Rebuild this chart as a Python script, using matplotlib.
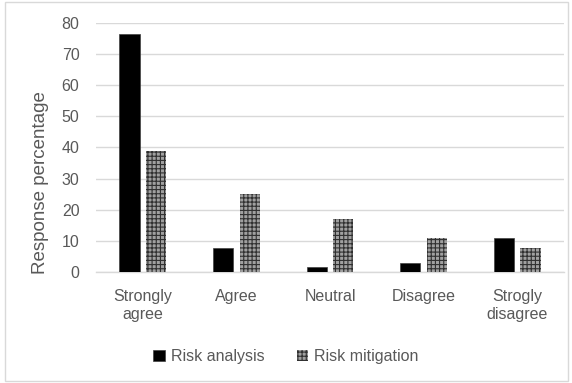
import matplotlib
matplotlib.use("Agg")
import matplotlib.pyplot as plt
import numpy as np
from matplotlib.patches import Rectangle

plt.rcParams['font.family'] = ['Liberation Sans', 'DejaVu Sans']
plt.rcParams['hatch.linewidth'] = 0.8

categories = ["Strongly\nagree", "Agree", "Neutral", "Disagree", "Strogly\ndisagree"]
risk_analysis = [76.5, 7.7, 1.5, 3.0, 10.9]
risk_mitigation = [38.9, 25.0, 17.0, 11.0, 7.7]
yticks = [0, 10, 20, 30, 40, 50, 60, 70, 80]

text_color = "#595959"
grid_color = "#d9d9d9"

fig = plt.figure(figsize=(5.72, 3.83), dpi=100)
ax = fig.add_axes([0.168, 0.29, 0.818, 0.65])

x = np.arange(len(categories))
w = 0.215
gap = 0.07
ax.bar(x - (w + gap) / 2, risk_analysis, w, color="black", edgecolor="#404040",
       linewidth=0.5, label="Risk analysis", zorder=3)
ax.bar(x + (w + gap) / 2, risk_mitigation, w, color="#a0a0a0", edgecolor="#303030",
       hatch="++++", linewidth=0, label="Risk mitigation", zorder=3)

ax.set_xlim(-0.5, len(categories) - 0.5)
ax.set_ylim(0, 80)
ax.set_yticks(yticks)
ax.set_xticks(x)
ax.set_xticklabels(categories, fontsize=11.5, color=text_color, linespacing=1.3)
ax.tick_params(axis='y', labelsize=11.5, labelcolor=text_color, length=0, pad=12)
ax.tick_params(axis='x', length=0, pad=12)
ax.grid(axis='y', color=grid_color, linewidth=1, zorder=0)
for s in ["top", "right", "left"]:
    ax.spines[s].set_visible(False)
ax.spines["bottom"].set_color(grid_color)
ax.spines["bottom"].set_linewidth(1)
ax.set_ylabel("Response percentage", fontsize=13.5, color=text_color)
ax.yaxis.set_label_coords(-0.10, 0.36)

leg = fig.legend(loc="lower center", bbox_to_anchor=(0.5, 0.012), ncol=2, frameon=False,
                 fontsize=11.5, handlelength=0.7, handleheight=0.7, columnspacing=2.0,
                 handletextpad=0.4, labelcolor=text_color)

fig.patches.append(Rectangle((0.008, 0.005), 0.985, 0.99, transform=fig.transFigure,
                             fill=False, edgecolor="#d9d9d9", linewidth=1))

fig.savefig("out.png", dpi=100, facecolor="white")
